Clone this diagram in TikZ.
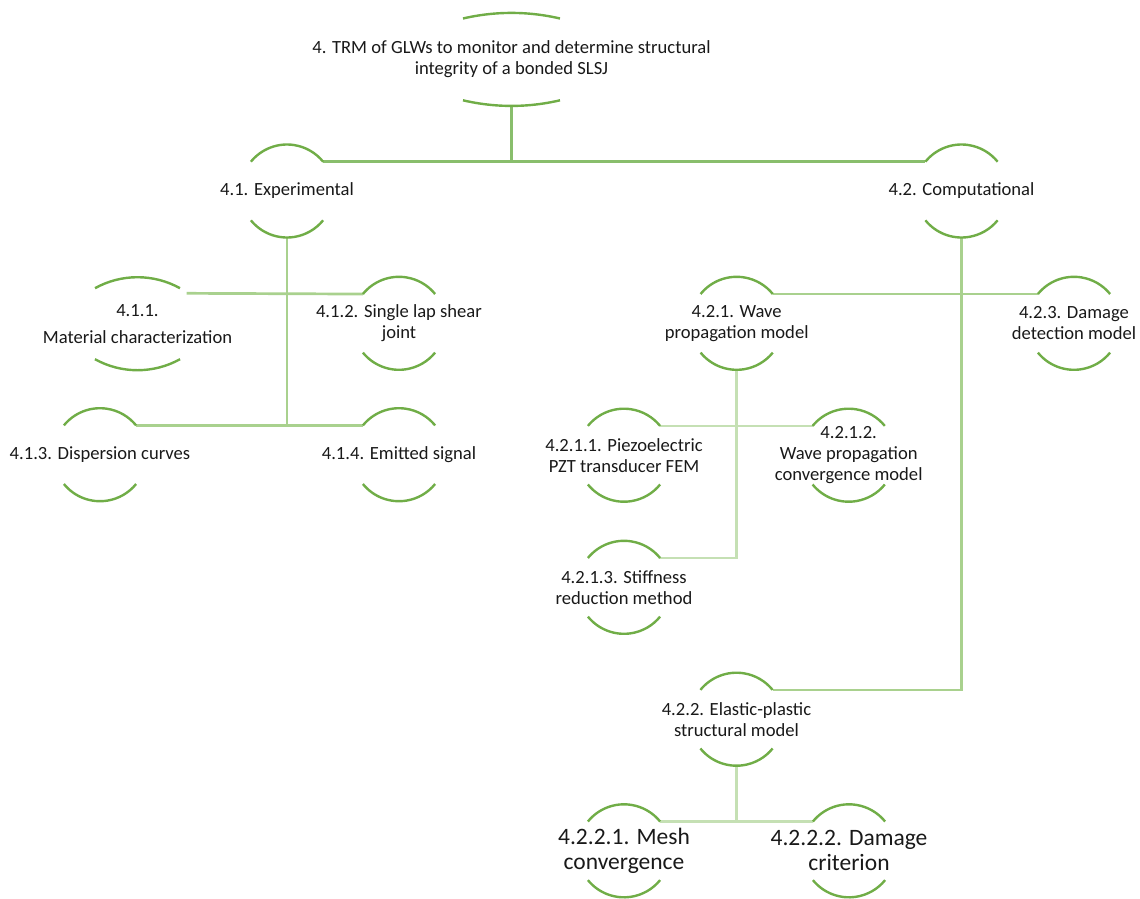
\documentclass[tikz,border=0pt]{standalone}
\usepackage{fontspec}
\setmainfont{Carlito}
\usetikzlibrary{calc}
\definecolor{capgreen}{RGB}{112,173,71}
\definecolor{lineA}{RGB}{137,190,108}
\definecolor{lineB}{RGB}{169,209,142}
\definecolor{lineC}{RGB}{197,224,180}
\tikzset{
  ring/.style={circle, draw=none, minimum size=93pt, inner sep=0pt, outer sep=0pt},
  capline/.style={draw=capgreen, line width=2.4pt},
  txt/.style={align=center, inner sep=0pt, font=\fontsize{18.6}{21.2}\selectfont, text=black!90},
  bigtxt/.style={align=center, inner sep=0pt, font=\fontsize{23.5}{25}\selectfont, text=black!90},
  connA/.style={draw=lineA, line width=2.7pt},
  connB/.style={draw=lineB, line width=2.7pt},
  connC/.style={draw=lineC, line width=2.7pt},
}
% #1 node, #2 half chord, #3 sagitta
\newcommand\drawcaps[3]{%
  \pgfmathsetmacro\capR{(#2*#2+#3*#3)/(2*#3)}%
  \pgfmathsetmacro\capA{asin(#2/\capR)}%
  \draw[capline] ([shift={(-#2,46.5-#3)}]#1.center) arc[start angle=90+\capA, end angle=90-\capA, radius=\capR pt];
  \draw[capline] ([shift={(-#2,-46.5+#3)}]#1.center) arc[start angle=270-\capA, end angle=270+\capA, radius=\capR pt];
}
\begin{document}
\begin{tikzpicture}[x=1pt,y=1pt]
\path[use as bounding box] (0,0) rectangle (1140,-898);

% ring nodes
\node[ring] (n4)    at (511.5,-59.4) {};
\node[ring] (n41)   at (287,-191) {};
\node[ring] (n42)   at (961.5,-191) {};
\node[ring] (n411)  at (137.5,-323.7) {};
\node[ring] (n412)  at (399,-323.3) {};
\node[ring] (n413)  at (100,-454.7) {};
\node[ring] (n414)  at (399,-454.7) {};
\node[ring] (n421)  at (736.7,-323.3) {};
\node[ring] (n423)  at (1074,-323.3) {};
\node[ring] (n4211) at (624,-455.2) {};
\node[ring] (n4212) at (848.7,-455.2) {};
\node[ring] (n4213) at (624,-587.3) {};
\node[ring] (n422)  at (736.5,-719.2) {};
\node[ring] (n4221) at (624,-850.8) {};
\node[ring] (n4222) at (849,-850.8) {};

\coordinate (a411) at ([shift={(49.2,30.4)}]n411.center);

% connectors
\draw[connA] (n4.south) -- (n4.south |- n41.39);
\draw[connA] (n41.39) -- (n42.141);

\draw[connB] (n41.south) -- (n41.south |- n413.39);
\draw[connB] (a411) -- (n412.141);
\draw[connB] (n413.39) -- (n414.141);

\draw[connB] (n42.south) -- (n42.south |- n422.39) -- (n422.39);
\draw[connB] (n421.39) -- (n423.141);

\draw[connC] (n421.south) -- (n421.south |- n4213.39) -- (n4213.39);
\draw[connC] (n4211.39) -- (n4212.141);

\draw[connC] (n422.south) -- (n422.south |- n4221.39);
\draw[connC] (n4221.39) -- (n4222.141);

% caps
\drawcaps{n4}{48.5}{5.6}
\drawcaps{n411}{42.5}{11}
\foreach \n in {n41,n42,n412,n413,n414,n421,n423,n4211,n4212,n4213,n422,n4221,n4222}{
  \drawcaps{\n}{36.1}{17.2}
}

% texts
\node[txt] (t4) at (n4) {4. TRM of GLWs to monitor and determine structural\\integrity of a bonded SLSJ};
\node[txt] (t41) at (n41) {4.1. Experimental};
\node[txt] (t42) at (n42) {4.2. Computational};
\node[txt] (t411) at (n411) {4.1.1.\\[6pt]Material characterization};
\node[txt] (t412) at (n412) {4.1.2. Single lap shear\\joint};
\node[txt] (t413) at (n413) {4.1.3. Dispersion curves};
\node[txt] (t414) at (n414) {4.1.4. Emitted signal};
\node[txt] (t421) at (n421) {4.2.1. Wave\\propagation model};
\node[txt] (t423) at (n423) {4.2.3. Damage\\detection model};
\node[txt] (t4211) at (n4211) {4.2.1.1. Piezoelectric\\PZT transducer FEM};
\node[txt] (t4212) at (n4212) {4.2.1.2.\\Wave propagation\\convergence model};
\node[txt] (t4213) at (n4213) {4.2.1.3. Stiffness\\reduction method};
\node[txt] (t422) at (n422) {4.2.2. Elastic-plastic\\structural model};
\node[bigtxt] (t4221) at (n4221) {4.2.2.1. Mesh\\convergence};
\node[bigtxt] (t4222) at (n4222) {4.2.2.2. Damage\\criterion};
\end{tikzpicture}
\end{document}
